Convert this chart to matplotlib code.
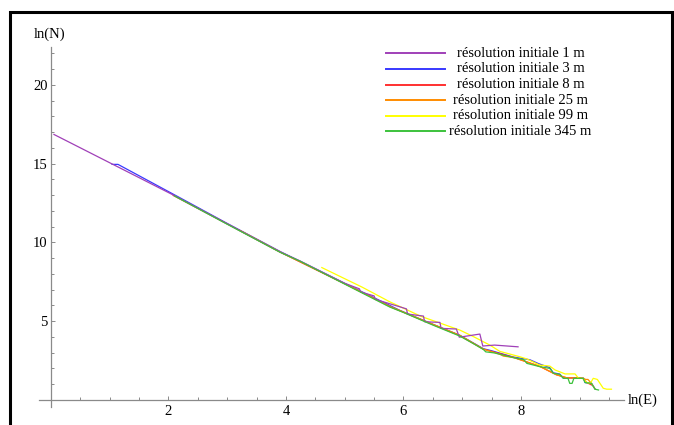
import matplotlib
matplotlib.use("Agg")
import matplotlib.pyplot as plt
from matplotlib.lines import Line2D
from matplotlib.patches import Rectangle
from matplotlib.ticker import MultipleLocator, FixedLocator

plt.rcParams['font.family'] = ['Liberation Serif', 'DejaVu Serif']
plt.rcParams['font.size'] = 10

# courbes ln(N) = f(ln(E)) pour chaque résolution initiale
x_1m = [0.05, 2.1, 3.0, 3.9, 4.24, 5.0, 5.25, 5.27, 5.5, 5.52, 5.77, 6.05, 6.07,
        6.34, 6.36, 6.62, 6.64, 6.9, 6.95, 7.3, 7.35, 7.55, 7.95]
y_1m = [16.85, 12.97, 11.17, 9.39, 8.82, 7.4, 7.05, 6.85, 6.6, 6.38, 6.1, 5.78, 5.45,
        5.32, 4.96, 4.92, 4.54, 4.5, 3.98, 4.18, 3.42, 3.48, 3.37]

x_3m = [1.04, 1.14, 2.2, 3.0, 3.9, 5.0, 5.94, 6.5, 6.96, 7.36, 7.5, 7.87, 8.15, 8.3,
        8.49, 8.55, 8.66, 8.72, 9.06, 9.09, 9.2, 9.26]
y_3m = [14.95, 14.95, 12.82, 11.2, 9.42, 7.4, 5.68, 4.8, 4.1, 3.25, 3.12, 2.72, 2.55, 2.3,
        2.05, 1.72, 1.64, 1.39, 1.39, 1.1, 1.05, 0.7]

x_8m = [2.08, 3.0, 3.9, 5.0, 5.77, 6.5, 6.96, 7.36, 7.87, 8.32, 8.6, 8.78, 9.0, 9.06,
        9.12, 9.2]
y_8m = [12.98, 11.17, 9.38, 7.37, 5.92, 4.78, 4.08, 3.22, 2.7, 2.13, 1.6, 1.4, 1.4, 1.35,
        1.1, 0.95]

x_25m = [3.22, 3.9, 5.0, 5.77, 6.5, 6.96, 7.36, 7.64, 7.7, 7.87, 8.32, 8.6, 8.78, 9.06,
         9.1, 9.14, 9.2, 9.26]
y_25m = [10.75, 9.39, 7.38, 5.93, 4.8, 4.1, 3.22, 2.9, 2.78, 2.7, 2.13, 1.6, 1.4, 1.38,
         1.3, 1.3, 1.05, 0.7]

x_99m = [4.61, 5.3, 5.77, 6.3, 6.96, 7.2, 7.36, 7.47, 7.64, 7.8, 7.98, 8.1, 8.32, 8.49,
         8.58, 8.75, 8.92, 8.98, 9.05, 9.12, 9.18, 9.23, 9.3, 9.4, 9.46, 9.54]
y_99m = [8.4, 7.15, 6.22, 5.3, 4.43, 4.0, 3.69, 3.48, 3.08, 2.92, 2.74, 2.6, 2.21, 2.15,
         1.9, 1.65, 1.65, 1.37, 1.37, 1.1, 1.05, 1.37, 1.3, 0.74, 0.68, 0.68]

x_345m = [2.1, 3.0, 3.9, 4.24, 5.0, 5.77, 6.0, 6.5, 6.96, 7.2, 7.36, 7.4, 7.55, 7.87,
          8.05, 8.1, 8.32, 8.49, 8.55, 8.66, 8.72, 8.8, 8.83, 8.87, 8.9, 9.06, 9.09,
          9.2, 9.26, 9.32]
y_345m = [12.95, 11.15, 9.37, 8.8, 7.35, 5.89, 5.55, 4.75, 4.05, 3.55, 3.2, 3.05, 2.98,
          2.68, 2.55, 2.32, 2.11, 2.0, 1.69, 1.62, 1.37, 1.37, 1.05, 1.05, 1.37, 1.37,
          1.1, 1.05, 0.68, 0.63]

labels = ['résolution initiale 1 m', 'résolution initiale 3 m', 'résolution initiale 8 m',
          'résolution initiale 25 m', 'résolution initiale 99 m', 'résolution initiale 345 m']
colors = ['#a040b8', '#3838ff', '#ff3030', '#ff8c00', '#ffff00', '#3cc23c']
series = [(x_1m, y_1m), (x_3m, y_3m), (x_8m, y_8m),
          (x_25m, y_25m), (x_99m, y_99m), (x_345m, y_345m)]
# ordre de tracé : la courbe 1 m passe au-dessus de la 99 m, la 345 m en dernier
zorders = [2.5, 2.1, 2.2, 2.3, 2.4, 2.6]

W, H = 674, 425
fig = plt.figure(figsize=(W / 100, H / 100), dpi=100)
ax = fig.add_axes([39.25 / W, 18 / H, (623.8 - 39.25) / W, (407 - 47) / H])
ax.set_xlim(-0.2, 9.75)
ax.set_ylim(-0.45, 22.4)

for (xs, ys), c, z in zip(series, colors, zorders):
    ax.plot(xs, ys, color=c, lw=0.9, zorder=z)

# axes façon Mathematica : croisement en (0, 0)
axis_col = '#8a8a8a'
for side in ['top', 'right']:
    ax.spines[side].set_visible(False)
ax.spines['left'].set_position(('data', 0))
ax.spines['bottom'].set_position(('data', 0))
for side in ['left', 'bottom']:
    ax.spines[side].set_color(axis_col)
    ax.spines[side].set_linewidth(0.9)

ax.xaxis.set_major_locator(FixedLocator([2, 4, 6, 8]))
ax.xaxis.set_minor_locator(MultipleLocator(0.5))
ax.yaxis.set_major_locator(FixedLocator([5, 10, 15, 20]))
ax.yaxis.set_minor_locator(MultipleLocator(1))
ax.tick_params(which='both', direction='in', color=axis_col, width=0.7)
ax.tick_params(which='major', length=3.2)
ax.tick_params(which='minor', length=1.9)
ax.tick_params(axis='x', pad=3.5, labelsize=10.5)
ax.tick_params(axis='y', pad=2.5, labelsize=10.5)
ax.set_facecolor('none')

fig.text(34 / W, 1 - 34 / H, 'ln(N)', ha='left', va='center', fontsize=10.5)
fig.text(628 / W, 1 - 400 / H, 'ln(E)', ha='left', va='center', fontsize=10.5)

# légende
row_y = [53.3, 68.9, 84.5, 100.1, 115.8, 131.5]
for lab, c, yy in zip(labels, colors, row_y):
    fig.add_artist(Line2D([386 / W, 445 / W], [1 - yy / H, 1 - yy / H],
                          transform=fig.transFigure, color=c, lw=1.4))
    fig.text(520.5 / W, 1 - yy / H, lab, ha='center', va='center', fontsize=10.5)

# cadre noir
fig.add_artist(Rectangle((9.5 / W, -0.1), (671.5 - 9.5) / W, 1.1 - 11.5 / H,
                         transform=fig.transFigure, fill=False, ec='black', lw=2.2))

fig.savefig('out.png', dpi=100)
